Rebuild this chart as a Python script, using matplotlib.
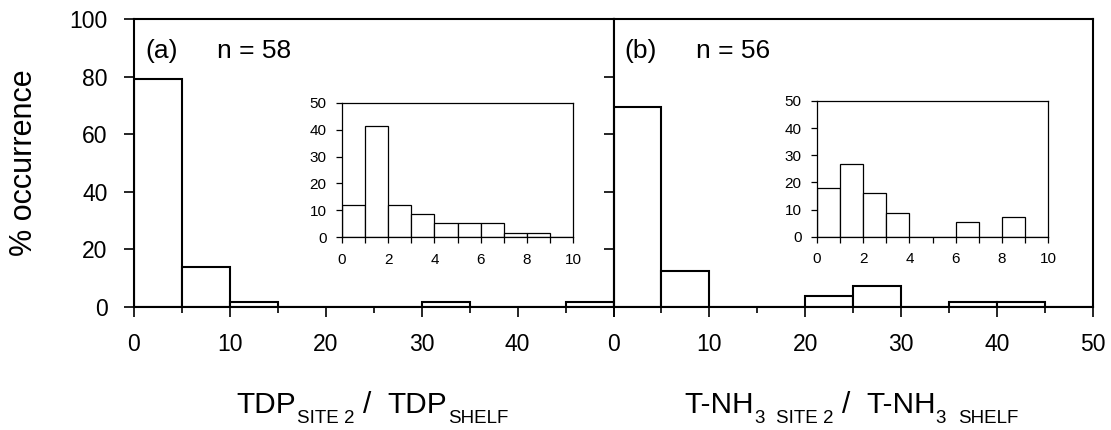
import numpy as np
import matplotlib.pyplot as plt
from matplotlib.ticker import MultipleLocator
from matplotlib.transforms import IdentityTransform

plt.rcParams['font.family'] = ['Liberation Sans', 'DejaVu Sans']

# bin edges (ratio classes)
main_edges = np.arange(0, 55, 5)
inset_edges = np.arange(0, 11, 1)

# % occurrence per bin
tdp_main = [79.3, 13.8, 1.7, 0, 0, 0, 1.7, 0, 0, 1.7]
nh3_main = [69.6, 12.5, 0, 0, 3.6, 7.1, 0, 1.8, 1.8, 0]
tdp_inset = [12.1, 41.4, 12.1, 8.6, 5.2, 5.2, 5.2, 1.7, 1.7, 0]
nh3_inset = [17.9, 26.8, 16.1, 8.9, 0, 0, 5.4, 0, 7.1, 0]

panel_tags = ['(a)', '(b)']
sample_sizes = [58, 56]

W, H = 1111, 430
fig = plt.figure(figsize=(W / 100, H / 100), dpi=100)

ax_a = fig.add_axes([134 / W, 1 - 306.7 / H, 479.5 / W, 287.4 / H])
ax_b = fig.add_axes([613.5 / W, 1 - 306.7 / H, 479.5 / W, 287.4 / H])
in_a = fig.add_axes([342 / W, 1 - 237.3 / H, 231 / W, 134.6 / H])
in_b = fig.add_axes([817 / W, 1 - 236.7 / H, 231 / W, 135.7 / H])


def draw_hist(ax, edges, values, lw):
    ax.bar(edges[:-1], values, width=np.diff(edges), align='edge',
           facecolor='white', edgecolor='black', linewidth=lw)


for ax, vals, tag, n in zip([ax_a, ax_b], [tdp_main, nh3_main], panel_tags, sample_sizes):
    draw_hist(ax, main_edges, vals, 1.5)
    ax.set_xlim(0, 50)
    ax.set_ylim(0, 100)
    ax.set_yticks(np.arange(0, 101, 20))
    ax.xaxis.set_minor_locator(MultipleLocator(5))
    ax.tick_params(which='major', direction='out', length=7, width=1.2,
                   labelsize=16.5, pad=12)
    ax.tick_params(which='minor', direction='out', length=4.5, width=1.2)
    for s in ax.spines.values():
        s.set_linewidth(1.5)
    ax.text(0.023, 0.865, tag, transform=ax.transAxes, fontsize=19, va='baseline')
    ax.text(0.173, 0.865, f'n = {n}', transform=ax.transAxes, fontsize=19, va='baseline')

ax_a.set_xticks(np.arange(0, 51, 10), ['0', '10', '20', '30', '40', ''])
ax_b.set_xticks(np.arange(0, 51, 10))
ax_b.tick_params(axis='y', labelleft=False)

for ax, vals in zip([in_a, in_b], [tdp_inset, nh3_inset]):
    draw_hist(ax, inset_edges, vals, 0.9)
    ax.set_xlim(0, 10)
    ax.set_ylim(0, 50)
    ax.set_xticks(np.arange(0, 11, 2))
    ax.set_yticks(np.arange(0, 51, 10))
    ax.xaxis.set_minor_locator(MultipleLocator(1))
    ax.tick_params(which='both', direction='out', length=4, width=0.9,
                   labelsize=11, pad=7)
    for s in ax.spines.values():
        s.set_linewidth(0.9)

fig.text(24 / W, 1 - 163 / H, '% occurrence', rotation=90, ha='center',
         va='center', fontsize=22)


def draw_label(x_center, y_base, parts):
    # lay out text pieces left to right in pixel space, with subscript shifts
    r = fig.canvas.get_renderer()
    items = []
    total = 0
    for s, size, dy, gap in parts:
        t = fig.text(0, y_base + dy, s, fontsize=size, ha='left', va='baseline',
                     transform=IdentityTransform())
        w = t.get_window_extent(r).width
        items.append((t, w, gap))
        total += w + gap
    total -= items[-1][2]
    x = x_center - total / 2
    for t, w, gap in items:
        t.set_x(x)
        x += w + gap


big, small = 21.5, 13.5
draw_label(372.5, H - 413, [('TDP', big, 0, 1), ('SITE 2', small, -10, 8),
                            ('/', big, 0, 16), ('TDP', big, 0, 1),
                            ('SHELF', small, -10, 0)])
draw_label(851.5, H - 413, [('T-NH', big, 0, 0), ('3', small, -10, 12),
                            ('SITE 2', small, -10, 8), ('/', big, 0, 16),
                            ('T-NH', big, 0, 0), ('3', small, -10, 12),
                            ('SHELF', small, -10, 0)])

fig.savefig('out.png', dpi=100)
